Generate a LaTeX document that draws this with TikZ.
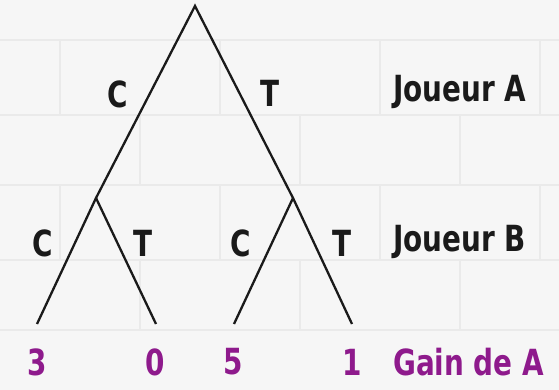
\documentclass[tikz,border=0pt]{standalone}
\usepackage{fontspec}
\setmainfont{DejaVu Sans}
\newfontfamily\lblfont{DejaVu Sans Condensed Bold}
\newcommand\narrowtxt[1]{\scalebox{0.86}[1]{#1}}
\definecolor{wall}{HTML}{F6F6F6}
\definecolor{mortar}{HTML}{EAEAEA}
\definecolor{ink}{HTML}{1A1A1A}
\definecolor{gain}{HTML}{8E1A8C}
\begin{document}
\begin{tikzpicture}[x=1pt,y=-1pt,
  branch/.style={draw=ink,line width=2.3pt},
  lbl/.style={font=\lblfont\fontsize{36}{36}\selectfont,text=ink,inner sep=0pt},
  gainlbl/.style={lbl,text=gain}]
\useasboundingbox (0,0) rectangle (559,390);
\fill[wall] (0,0) rectangle (559,390);
% faint brick courses
\foreach \yy in {40,115,185,260,330}
  \draw[mortar,line width=1.2pt] (0,\yy) -- (559,\yy);
\foreach \xx in {60,220,380,540}
  {\draw[mortar,line width=1.2pt] (\xx,40) -- (\xx,115);
   \draw[mortar,line width=1.2pt] (\xx,185) -- (\xx,260);}
\foreach \xx in {140,300,460}
  {\draw[mortar,line width=1.2pt] (\xx,115) -- (\xx,185);
   \draw[mortar,line width=1.2pt] (\xx,260) -- (\xx,330);}
% tree points
\coordinate (r) at (195,6);
\coordinate (bl) at (96,198);
\coordinate (br) at (293,198);
\coordinate (l1) at (37,324);
\coordinate (l2) at (156,324);
\coordinate (l3) at (234,324);
\coordinate (l4) at (352,324);
\draw[branch,line join=miter] (l1) -- (bl) -- (r) -- (br) -- (l4);
\draw[branch] (bl) -- (l2);
\draw[branch] (br) -- (l3);
% move labels
\node[lbl] (cA) at (118,94) {\narrowtxt{C}};
\node[lbl] (tA) at (270,93) {\narrowtxt{T}};
\node[lbl] (cB1) at (43,243) {\narrowtxt{C}};
\node[lbl] (tB1) at (143,243) {\narrowtxt{T}};
\node[lbl] (cB2) at (241,243) {\narrowtxt{C}};
\node[lbl] (tB2) at (342,243) {\narrowtxt{T}};
\node[lbl,anchor=west] (ja) at (393,92) {\narrowtxt{Joueur A}};
\node[lbl,anchor=west] (jb) at (393,242) {\narrowtxt{Joueur B}};
% payoffs
\node[gainlbl] (g1) at (37,362) {\narrowtxt{3}};
\node[gainlbl] (g2) at (155,362) {\narrowtxt{0}};
\node[gainlbl] (g3) at (233,362) {\narrowtxt{5}};
\node[gainlbl] (g4) at (352,362) {\narrowtxt{1}};
\node[gainlbl,anchor=west] (ga) at (393,362) {\narrowtxt{Gain de A}};
\end{tikzpicture}
\end{document}
